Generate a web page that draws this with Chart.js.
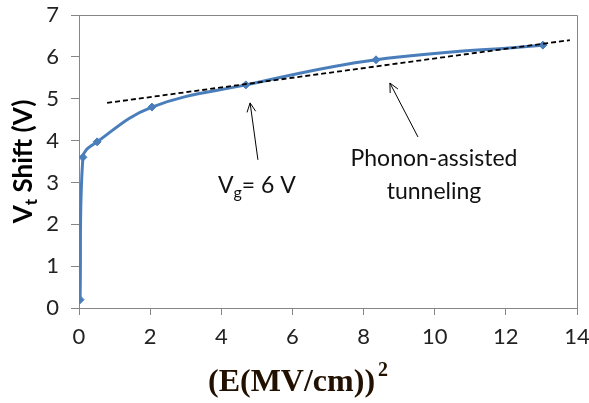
<!DOCTYPE html>
<html>
<head>
<meta charset="utf-8">
<script src="https://cdn.jsdelivr.net/npm/chart.js@4/dist/chart.umd.min.js"></script>
<style>
  html, body { margin: 0; padding: 0; background: #fff; }
  #wrap { width: 589px; height: 403px; }
</style>
</head>
<body>
<div id="wrap"><canvas id="chart" width="589" height="403"></canvas></div>
<script>
// measured Vt shift vs field squared
const fieldSq = [0.03, 0.11, 0.51, 2.05, 4.69, 8.35, 13.04];
const vtShift = [0.2, 3.6, 3.97, 4.8, 5.33, 5.93, 6.28];

// phonon-assisted tunneling fit line
const fitX = [0.79, 13.8];
const fitY = [4.9, 6.4];

const xTicks = [0, 2, 4, 6, 8, 10, 12, 14];
const yTicks = [0, 1, 2, 3, 4, 5, 6, 7];

// annotation arrows: [tailX, tailY, headX, headY]
const arrows = [
    [5.03, 3.54, 4.81, 4.90],
    [9.53, 4.085, 8.74, 5.375],
];
const labels = [
    { text: 'Phonon-assisted', x: 9.98, y: 3.56 },
    { text: 'tunneling', x: 9.98, y: 2.78 },
];
const vgLabel = { x: 5.0, y: 2.93 };

const AXIS_GRAY = '#868686';
const FONT = 'Lato, "Open Sans", sans-serif';

const overlay = {
    id: 'overlay',
    afterDraw(chart) {
        const { ctx, chartArea: a, scales } = chart;
        const xs = scales.x, ys = scales.y;
        ctx.save();

        // plot frame (top + right)
        ctx.strokeStyle = AXIS_GRAY;
        ctx.lineWidth = 1;
        ctx.beginPath();
        ctx.moveTo(a.left, a.top + 0.5);
        ctx.lineTo(a.right + 0.5, a.top + 0.5);
        ctx.lineTo(a.right + 0.5, a.bottom);
        ctx.stroke();

        // arrows
        ctx.strokeStyle = '#000';
        ctx.fillStyle = '#000';
        ctx.lineWidth = 1;
        arrows.forEach(([tx, ty, hx, hy]) => {
            const x1 = xs.getPixelForValue(tx), y1 = ys.getPixelForValue(ty);
            const x2 = xs.getPixelForValue(hx), y2 = ys.getPixelForValue(hy);
            const ang = Math.atan2(y2 - y1, x2 - x1);
            ctx.beginPath();
            ctx.moveTo(x1, y1);
            ctx.lineTo(x2, y2);
            ctx.moveTo(x2 - 10 * Math.cos(ang - 0.45), y2 - 10 * Math.sin(ang - 0.45));
            ctx.lineTo(x2, y2);
            ctx.lineTo(x2 - 10 * Math.cos(ang + 0.45), y2 - 10 * Math.sin(ang + 0.45));
            ctx.stroke();
        });

        // text annotations
        ctx.fillStyle = '#111';
        ctx.textAlign = 'center';
        ctx.textBaseline = 'middle';
        ctx.font = '23px ' + FONT;
        labels.forEach(l => {
            ctx.fillText(l.text, xs.getPixelForValue(l.x), ys.getPixelForValue(l.y));
        });

        // Vg = 6 V with subscript
        const vx = xs.getPixelForValue(vgLabel.x), vy = ys.getPixelForValue(vgLabel.y);
        ctx.textAlign = 'left';
        const main1 = 'V', sub = 'g', main2 = '= 6 V';
        const w1 = ctx.measureText(main1).width;
        const w3 = ctx.measureText(main2).width;
        ctx.font = '16px ' + FONT;
        const w2 = ctx.measureText(sub).width;
        let sx = vx - (w1 + w2 + w3) / 2;
        ctx.font = '23px ' + FONT;
        ctx.fillText(main1, sx, vy);
        ctx.font = '16px ' + FONT;
        ctx.fillText(sub, sx + w1, vy + 7);
        ctx.font = '23px ' + FONT;
        ctx.fillText(main2, sx + w1 + w2, vy);

        // y title: Vt Shift (V)
        ctx.save();
        ctx.translate(24, (a.top + a.bottom) / 2);
        ctx.rotate(-Math.PI / 2);
        ctx.fillStyle = '#000';
        ctx.textBaseline = 'middle';
        ctx.font = 'bold 26px ' + FONT;
        const t1 = 'V', t2 = 't', t3 = ' Shift (V)';
        const tw1 = ctx.measureText(t1).width, tw3 = ctx.measureText(t3).width;
        ctx.font = 'bold 17px ' + FONT;
        const tw2 = ctx.measureText(t2).width;
        let tx0 = -(tw1 + tw2 + tw3) / 2;
        ctx.font = 'bold 26px ' + FONT;
        ctx.fillText(t1, tx0, 0);
        ctx.font = 'bold 17px ' + FONT;
        ctx.fillText(t2, tx0 + tw1, 8);
        ctx.font = 'bold 26px ' + FONT;
        ctx.fillText(t3, tx0 + tw1 + tw2, 0);
        ctx.restore();

        // x title: (E(MV/cm))^2
        ctx.fillStyle = '#221100';
        ctx.textBaseline = 'alphabetic';
        ctx.font = 'bold 32px "Liberation Serif", serif';
        const xt = '(E(MV/cm))';
        const xw = ctx.measureText(xt).width;
        const bx = 208;
        ctx.fillText(xt, bx, 391);
        ctx.font = 'bold 20px "Liberation Serif", serif';
        ctx.fillText('2', bx + xw + 3, 376);

        ctx.restore();
    }
};

new Chart(document.getElementById('chart'), {
    type: 'scatter',
    data: {
        datasets: [
            {
                label: 'Vt shift',
                data: fieldSq.map((x, i) => ({ x: x, y: vtShift[i] })),
                showLine: true,
                borderColor: '#4a7ebb',
                backgroundColor: '#4a7ebb',
                borderWidth: 3,
                tension: 0.4,
                pointStyle: 'rectRot',
                pointRadius: 4,
                pointBorderWidth: 1,
                order: 2,
            },
            {
                label: 'Fit',
                data: fitX.map((x, i) => ({ x: x, y: fitY[i] })),
                showLine: true,
                borderColor: '#000',
                borderWidth: 1.8,
                borderDash: [5, 3],
                pointRadius: 0,
                order: 1,
            },
        ],
    },
    options: {
        responsive: false,
        animation: false,
        layout: { padding: { left: 0, right: 12, top: 15, bottom: 0 } },
        plugins: {
            legend: { display: false },
            tooltip: { enabled: false },
        },
        scales: {
            x: {
                type: 'linear',
                min: 0,
                max: 14,
                afterBuildTicks: axis => { axis.ticks = xTicks.map(v => ({ value: v })); },
                afterFit: axis => {
                    axis.height = 95;
                    axis.paddingLeft = 0;
                    axis.paddingRight = 0;
                },
                ticks: {
                    color: '#222',
                    font: { family: FONT, size: 22 },
                    padding: 9,
                },
                grid: {
                    drawOnChartArea: false,
                    color: AXIS_GRAY,
                    tickLength: 7,
                },
                border: { color: AXIS_GRAY },
            },
            y: {
                type: 'linear',
                min: 0,
                max: 7,
                afterBuildTicks: axis => { axis.ticks = yTicks.map(v => ({ value: v })); },
                afterFit: axis => {
                    axis.width = 79;
                    axis.paddingTop = 0;
                    axis.paddingBottom = 0;
                },
                ticks: {
                    color: '#222',
                    font: { family: FONT, size: 22 },
                    padding: 12,
                },
                grid: {
                    drawOnChartArea: false,
                    color: AXIS_GRAY,
                    tickLength: 8,
                },
                border: { color: AXIS_GRAY },
            },
        },
    },
    plugins: [overlay],
});
</script>
</body>
</html>
